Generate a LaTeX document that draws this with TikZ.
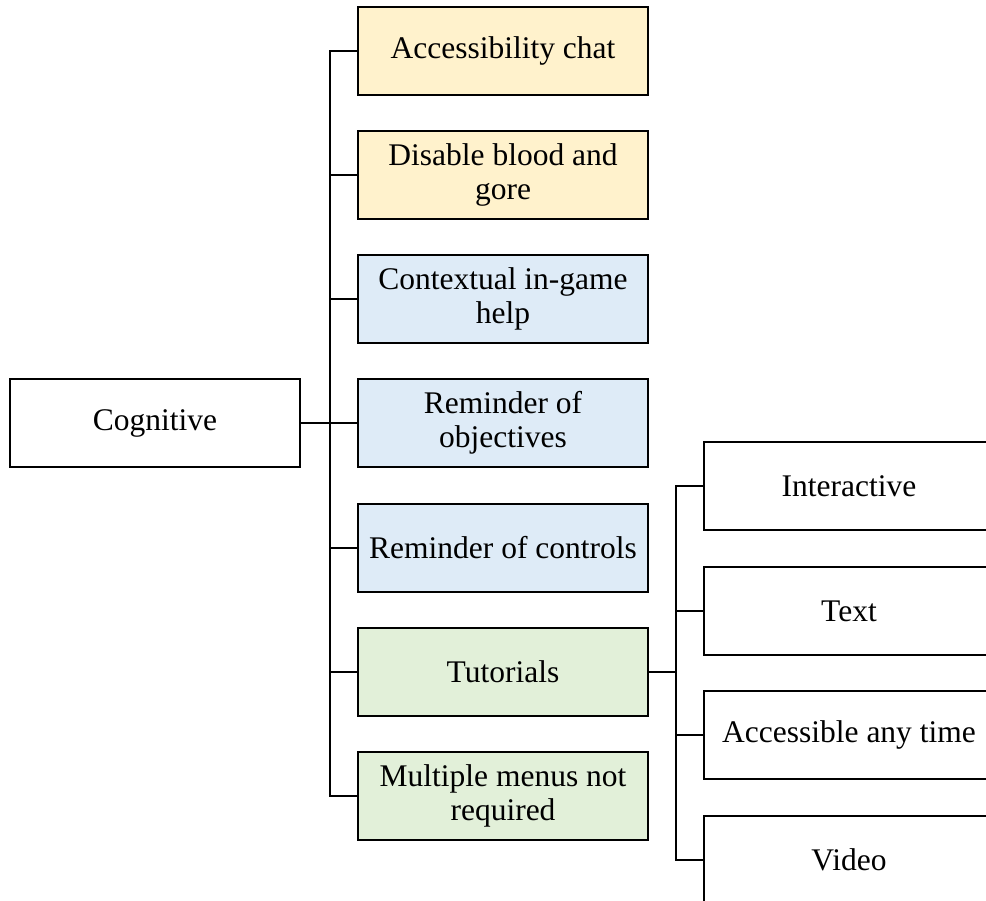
\documentclass[tikz,border=0pt]{standalone}
\usepackage{fontspec}
\setmainfont{Liberation Serif}
\definecolor{boxyellow}{HTML}{FFF2CC}
\definecolor{boxblue}{HTML}{DEEBF7}
\definecolor{boxgreen}{HTML}{E2F0D9}
\begin{document}
\begin{tikzpicture}[x=1pt,y=-1pt,
  box/.style={draw=black, line width=2.8pt, minimum width=290pt, minimum height=88pt,
    inner sep=0pt, align=center, font=\fontsize{31.5}{34}\selectfont},
  link/.style={line width=2.8pt, line cap=rect}]
\useasboundingbox (0,0) rectangle (986,901);
\clip (0,0) rectangle (986,901);

% root
\node[box, fill=white] (cog) at (155,423) {Cognitive};

% first level
\node[box, fill=boxyellow] (chat) at (503,51) {Accessibility chat};
\node[box, fill=boxyellow] (gore) at (503,175) {Disable blood and\\gore};
\node[box, fill=boxblue] (help) at (503,299) {Contextual in-game\\help};
\node[box, fill=boxblue] (obj) at (503,423) {Reminder of\\objectives};
\node[box, fill=boxblue] (ctrl) at (503,548) {Reminder of controls};
\node[box, fill=boxgreen] (tut) at (503,672) {Tutorials};
\node[box, fill=boxgreen] (menu) at (503,796) {Multiple menus not\\required};

% tutorial kinds
\node[box, fill=white] (inter) at (849,486) {Interactive};
\node[box, fill=white] (text) at (849,611) {Text};
\node[box, fill=white] (any) at (849,735) {Accessible any time};
\node[box, fill=white] (video) at (849,860) {Video};

% bracket from the root
\coordinate (j1) at (330,423);
\draw[link] (cog.east) -- (j1);
\draw[link] (j1 |- chat.west) -- (j1 |- menu.west);
\foreach \n in {chat,gore,help,obj,ctrl,tut,menu}
  \draw[link] (j1 |- \n.west) -- (\n.west);

% bracket from the tutorials
\coordinate (j2) at (676,672);
\draw[link] (tut.east) -- (j2);
\draw[link] (j2 |- inter.west) -- (j2 |- video.west);
\foreach \n in {inter,text,any,video}
  \draw[link] (j2 |- \n.west) -- (\n.west);
\end{tikzpicture}
\end{document}
